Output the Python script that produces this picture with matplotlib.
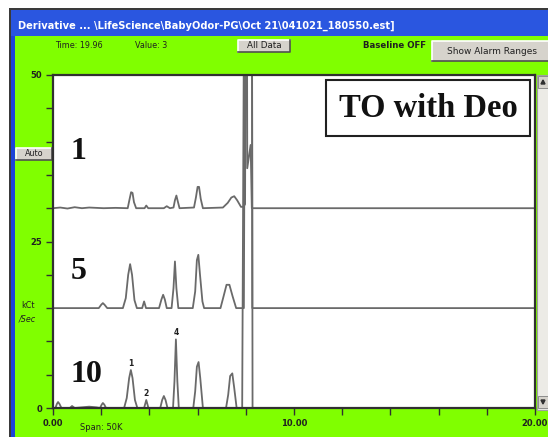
import numpy as np
import matplotlib.pyplot as plt
from matplotlib.patches import Rectangle, Polygon
from matplotlib.ticker import MultipleLocator, FixedLocator

# ---- data (time in min, signal in kCt/Sec) ----
trace1_t = [0.0, 0.3, 0.6, 0.9, 1.2, 1.5, 1.8, 2.1, 2.6, 3.1, 3.18, 3.24, 3.3,
            3.36, 3.45, 3.8, 3.87, 3.95, 4.6, 4.72, 4.85, 5.0, 5.06, 5.12, 5.18,
            5.25, 5.85, 5.93, 6.0, 6.06, 6.13, 6.22, 7.05, 7.25, 7.4, 7.52, 7.64,
            7.8, 7.9, 7.97, 8.03, 8.06, 8.2, 8.25, 20.0]
trace1_v = [0.0, 0.1, -0.05, 0.15, 0.0, 0.1, 0.05, 0.0, 0.05, 0.0, 1.4, 2.4, 2.3,
            0.9, 0.0, 0.0, 0.4, 0.0, 0.0, 0.3, 0.0, 0.1, 1.2, 1.9, 1.0,
            0.0, 0.1, 1.6, 3.2, 3.2, 1.4, 0.0, 0.1, 0.8, 1.6, 1.8, 1.2,
            0.2, 0.2, 0.6, 80.0, 6.0, 9.5, 0.0, 0.0]

trace5_t = [0.0, 1.0, 1.9, 2.0, 2.07, 2.14, 2.25, 2.9, 3.02, 3.12, 3.2, 3.28,
            3.38, 3.48, 3.7, 3.78, 3.86, 4.4, 4.5, 4.57, 4.64, 4.72, 4.92, 5.0,
            5.06, 5.12, 5.2, 5.8, 5.9, 5.97, 6.03, 6.1, 6.2, 6.27, 6.95, 7.08,
            7.2, 7.32, 7.45, 7.6, 7.92, 8.0, 8.25, 8.27, 20.0]
trace5_v = [0.0, 0.0, 0.0, 0.5, 0.75, 0.5, 0.0, 0.0, 1.5, 5.0, 6.6, 5.0,
            1.2, 0.0, 0.0, 1.0, 0.0, 0.0, 1.3, 2.0, 1.3, 0.0, 0.0, 3.0,
            7.0, 3.0, 0.0, 0.0, 2.5, 7.2, 8.0, 5.0, 1.0, 0.0, 0.0, 1.8,
            3.5, 3.5, 1.8, 0.0, 0.0, 80.0, 80.0, 0.0, 0.0]

trace10_t = [0.0, 0.1, 0.16, 0.21, 0.27, 0.35, 0.7, 0.79, 0.9, 1.2, 1.5, 1.8,
             1.95, 2.02, 2.07, 2.13, 2.2, 2.95, 3.06, 3.16, 3.23, 3.3, 3.4, 3.5,
             3.78, 3.87, 3.96, 4.45, 4.53, 4.6, 4.67, 4.75, 4.98, 5.04, 5.1,
             5.16, 5.22, 5.82, 5.9, 5.97, 6.04, 6.11, 6.22, 7.18, 7.27, 7.35,
             7.44, 7.52, 7.62, 7.85, 7.95, 8.25, 8.28, 20.0]
trace10_v = [0.0, 0.0, 0.6, 0.9, 0.6, 0.0, 0.0, 0.3, 0.0, 0.1, 0.2, 0.1,
             0.0, 0.5, 0.75, 0.5, 0.0, 0.0, 1.5, 4.5, 5.7, 4.5, 1.2, 0.0,
             0.0, 1.2, 0.0, 0.0, 1.2, 1.8, 1.2, 0.0, 0.0, 4.0, 10.3,
             4.0, 0.0, 0.0, 2.5, 6.2, 6.9, 4.5, 0.0, 0.0, 2.0, 4.8,
             5.2, 3.0, 0.0, 0.0, 80.0, 80.0, 0.0, 0.0]

trace_offsets = [30, 15, 0]
trace_names = ["1", "5", "10"]

# small peak numbers on the "10" trace
peak_ids = ["1", "2", "4"]
peak_times = [3.23, 3.87, 5.1]
peak_heights = [5.7, 1.2, 10.3]

W, H = 548, 437
GREEN = "#80ff00"
BLUE = "#2a56e0"
LINE = "#6a6a6a"
INK = "#202020"
UI_FONT = "DejaVu Sans"


def fx(x):
    return x / W


def fy(y):
    return 1 - y / H


def box(fig, x0, y0, x1, y1, **kw):
    r = Rectangle((fx(x0), fy(y1)), fx(x1) - fx(x0), fy(y0) - fy(y1),
                  transform=fig.transFigure, **kw)
    fig.add_artist(r)
    return r


def button(fig, x0, y0, x1, y1, label, size=6.5):
    box(fig, x0, y0, x1, y1, facecolor="#d6d3cc", edgecolor="none", zorder=2)
    # raised look: white top/left, dark bottom/right
    fig.add_artist(plt.Line2D([fx(x0), fx(x0), fx(x1)], [fy(y1), fy(y0), fy(y0)],
                              transform=fig.transFigure, color="white", lw=1.2, zorder=3))
    fig.add_artist(plt.Line2D([fx(x0), fx(x1), fx(x1)], [fy(y1), fy(y1), fy(y0)],
                              transform=fig.transFigure, color="#505050", lw=1.2, zorder=3))
    fig.text(fx((x0 + x1) / 2), fy((y0 + y1) / 2), label, ha="center", va="center",
             fontsize=size, color=INK, family=UI_FONT, zorder=4)


fig = plt.figure(figsize=(W / 100, H / 100), dpi=100)
fig.patch.set_facecolor("white")

# window frame, title bar and green client area
box(fig, 9, 8, W + 5, H + 5, facecolor="#3a3a3a", edgecolor="none", zorder=0)
box(fig, 11, 10, W + 5, 36, facecolor=BLUE, edgecolor="none", zorder=1)
box(fig, 11, 36, 15, H + 5, facecolor="#1d44d8", edgecolor="none", zorder=1)
box(fig, 15, 36, W + 5, H + 5, facecolor=GREEN, edgecolor="none", zorder=1)

fig.text(fx(18), fy(26), r"Derivative ... \LifeScience\BabyOdor-PG\Oct 21\041021_180550.est]",
         color="white", fontsize=7.1, fontweight="bold", family=UI_FONT,
         va="center", ha="left", zorder=2)

fig.text(fx(55), fy(45), "Time: 19.96", fontsize=5.8, color=INK,
         family=UI_FONT, va="center", zorder=2)
fig.text(fx(135), fy(45), "Value: 3", fontsize=5.8, color=INK,
         family=UI_FONT, va="center", zorder=2)
button(fig, 238, 40, 290, 52, "All Data", size=6.3)
fig.text(fx(363), fy(45), "Baseline OFF", fontsize=6.2, fontweight="bold", color=INK,
         family=UI_FONT, va="center", zorder=2)
button(fig, 432, 41, 552, 61, "Show Alarm Ranges", size=6.5)
button(fig, 16, 148, 52, 160, "Auto", size=5.8)

fig.text(fx(21), fy(305), "kCt", fontsize=5.8, color=INK, family=UI_FONT,
         va="center", zorder=2)
fig.text(fx(19), fy(319), "/Sec", fontsize=5.8, color=INK, family=UI_FONT,
         va="center", style="italic", zorder=2)

# scroll bar on the right of the plot
box(fig, 537, 75, 552, 410, facecolor="#ecebe6", edgecolor="#a0a0a0", lw=0.8, zorder=2)
box(fig, 538, 76, 548, 88, facecolor="#d6d3cc", edgecolor="#808080", lw=0.6, zorder=3)
box(fig, 538, 396, 548, 408, facecolor="#d6d3cc", edgecolor="#808080", lw=0.6, zorder=3)
for y_tip, y_base in [(80, 84), (404, 400)]:
    fig.add_artist(Polygon([(fx(541), fy(y_base)), (fx(545), fy(y_base)), (fx(543), fy(y_tip))],
                           transform=fig.transFigure, color="#303030", zorder=4))

# ---- plot area ----
ax = fig.add_axes([fx(53), fy(408), fx(535) - fx(53), fy(75) - fy(408)], zorder=5)
ax.set_facecolor("white")

all_t = [trace1_t, trace5_t, trace10_t]
all_v = [trace1_v, trace5_v, trace10_v]
for t, v, off in zip(all_t, all_v, trace_offsets):
    ax.plot(t, np.array(v) + off, color=LINE, lw=1.3, solid_joinstyle="round")

ax.set_xlim(0, 20)
ax.set_ylim(0, 50)

label_pos = [(1.05, 38.5), (1.05, 20.5), (1.4, 5.0)]
for name, (lx, ly) in zip(trace_names, label_pos):
    ax.text(lx, ly, name, fontsize=23, fontweight="bold", family="Liberation Serif",
            color="#111111", ha="center", va="center")

for pid, pt, ph in zip(peak_ids, peak_times, peak_heights):
    ax.text(pt, ph + 0.3, pid, fontsize=5.5, fontweight="bold", color=INK,
            ha="center", va="bottom", family=UI_FONT)

ax.text(0.778, 0.9, "TO with Deo", transform=ax.transAxes, fontsize=23.5,
        fontweight="bold", family="Liberation Serif", color="#111111",
        ha="center", va="center",
        bbox=dict(boxstyle="square,pad=0.38", facecolor="white", edgecolor="#202020", lw=1.5))

for s in ax.spines.values():
    s.set_color("#303030")
    s.set_linewidth(1.6)

ax.xaxis.set_major_locator(FixedLocator([0, 10, 20]))
ax.xaxis.set_minor_locator(MultipleLocator(2))
ax.set_xticklabels(["0.00", "10.00", "20.00"])
ax.yaxis.set_major_locator(FixedLocator([0, 25, 50]))
ax.yaxis.set_minor_locator(MultipleLocator(5))
ax.tick_params(which="both", direction="out", length=5, width=1, color="#303030",
               labelsize=6.0, labelcolor=INK, pad=3)
for lab in ax.get_xticklabels() + ax.get_yticklabels():
    lab.set_fontweight("bold")
    lab.set_family(UI_FONT)

fig.text(fx(80), fy(427), "Span: 50K", fontsize=6.0, color=INK,
         family=UI_FONT, va="center", zorder=2)

fig.savefig("out.png", dpi=100)
